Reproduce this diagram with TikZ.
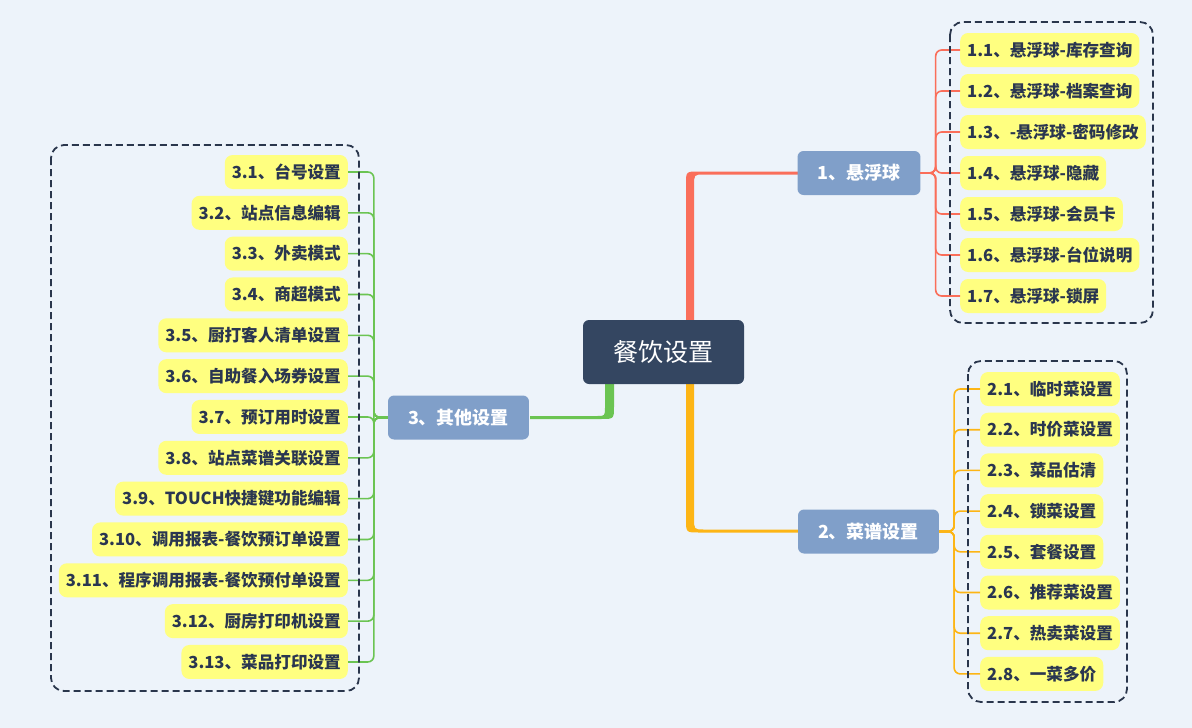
\documentclass[tikz,border=0pt]{standalone}
\usepackage{fontspec}
\newfontfamily\cjk{Noto Sans CJK SC}
\usetikzlibrary{calc}
\definecolor{bg}{HTML}{EDF3FA}
\definecolor{rootc}{HTML}{344661}
\definecolor{brc}{HTML}{809FC9}
\definecolor{leafc}{HTML}{FFFF80}
\definecolor{txt}{HTML}{2A3650}
\definecolor{redc}{HTML}{FA6E5A}
\definecolor{orac}{HTML}{FDB515}
\definecolor{grec}{HTML}{6BC452}
\definecolor{dashc}{HTML}{2A364C}
\begin{document}
\begin{tikzpicture}[x=1pt,y=-1pt,
 rootbox/.style={fill=rootc, rounded corners=6pt, text=white, minimum width=161pt, minimum height=64pt, font=\cjk\fontsize{25}{30}\selectfont},
 branchbox/.style={fill=brc, rounded corners=6pt, text=white, minimum height=44pt, inner xsep=20pt, font=\cjk\bfseries\fontsize{18}{22}\selectfont},
 leaf/.style={fill=leafc, rounded corners=8pt, text=txt, minimum height=34pt, inner xsep=7pt, font=\cjk\bfseries\fontsize{16.6}{19}\selectfont},
 conn/.style={line width=1.6pt, rounded corners=6pt},
 dashbox/.style={draw=dashc, line width=1.8pt, dash pattern=on 7pt off 4pt, rounded corners=13pt}]
\fill[bg] (0,0) rectangle (1192,728);
\useasboundingbox (0,0) rectangle (1192,728);
% trunks
\fill[redc] (686,321) -- (686,184) .. controls (686,171.5) .. (699,171.5) -- (798,171.5) -- (798,174.5) -- (704,174.5) .. controls (694,174.5) .. (694,186) -- (694,321) -- cycle;
\fill[orac] (686,383) -- (686,519) .. controls (686,532.5) .. (699,532.5) -- (798,532.5) -- (798,529.5) -- (704,529.5) .. controls (694,529.5) .. (694,518) -- (694,383) -- cycle;
\fill[grec] (605,383) -- (614,383) -- (614,406) .. controls (614,419) .. (601,419) -- (530,419) -- (530,416) -- (597,416) .. controls (605,416) .. (605,407) -- cycle;
% root and branches
\node[rootbox] (root) at (663.5,352) {餐饮设置};
\node[branchbox] (b1) at (859,173) {1、悬浮球};
\node[branchbox] (b2) at (868.5,531.5) {2、菜谱设置};
\node[branchbox] (b3) at (458.5,417.5) {3、其他设置};
% group 1
\foreach \t [count=\i] in {1.1、悬浮球-库存查询,1.2、悬浮球-档案查询,1.3、-悬浮球-密码修改,1.4、悬浮球-隐藏,1.5、悬浮球-会员卡,1.6、悬浮球-台位说明,1.7、悬浮球-锁屏}{
  \node[leaf, anchor=west] (a\i) at (960,{50+41*(\i-1)}) {\t};
  \draw[conn, redc] (b1.east) -- ++(15,0) |- (a\i.west);
}
% group 2
\foreach \t [count=\i] in {2.1、临时菜设置,2.2、时价菜设置,2.3、菜品估清,2.4、锁菜设置,2.5、套餐设置,2.6、推荐菜设置,2.7、热卖菜设置,2.8、一菜多价}{
  \node[leaf, anchor=west] (c\i) at (980,{389+40.7*(\i-1)}) {\t};
  \draw[conn, orac] (b2.east) -- ++(15,0) |- (c\i.west);
}
% group 3
\foreach \t [count=\i] in {3.1、台号设置,3.2、站点信息编辑,3.3、外卖模式,3.4、商超模式,3.5、厨打客人清单设置,3.6、自助餐入场券设置,3.7、预订用时设置,3.8、站点菜谱关联设置,3.9、TOUCH快捷键功能编辑,3.10、调用报表-餐饮预订单设置,3.11、程序调用报表-餐饮预付单设置,3.12、厨房打印机设置,3.13、菜品打印设置}{
  \node[leaf, anchor=east] (d\i) at (348,{172+40.83*(\i-1)}) {\t};
  \draw[conn, grec] (b3.west) -- ++(-14,0) |- (d\i.east);
}
% dashed group frames
\draw[dashbox] (950,22) rectangle (1153,323);
\draw[dashbox] (968,361) rectangle (1127,702);
\draw[dashbox] (51,145) rectangle (359,691);
\end{tikzpicture}
\end{document}
